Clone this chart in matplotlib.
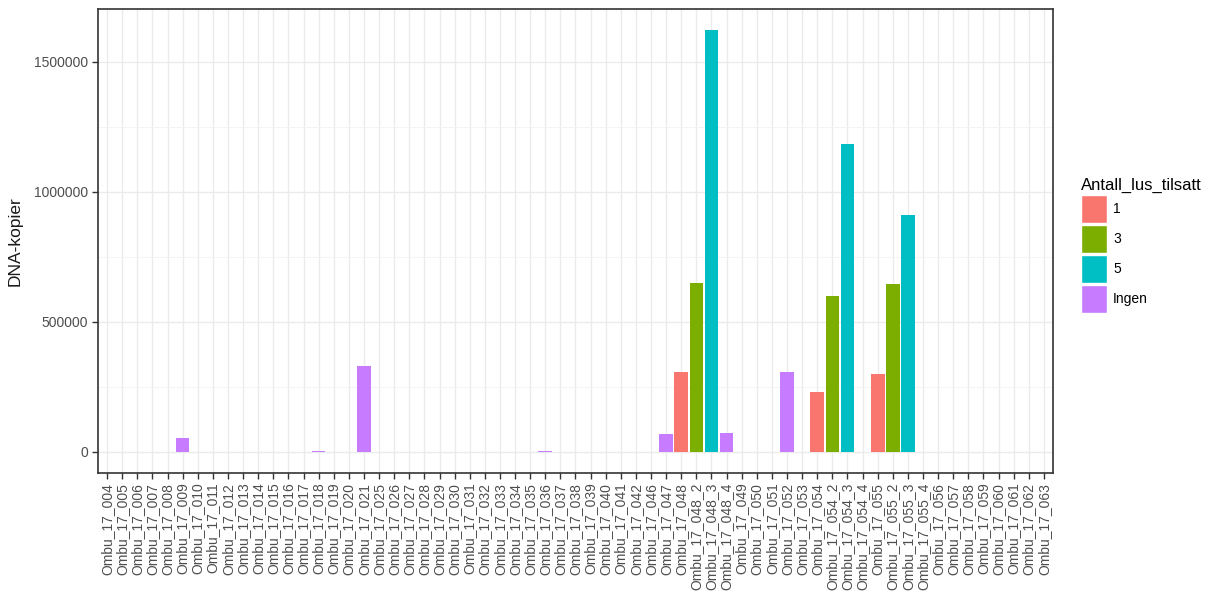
import matplotlib.pyplot as plt
from matplotlib.patches import Patch

plt.rcParams['font.family'] = ['Liberation Sans', 'DejaVu Sans']

# Data
samples = ["Ombu_17_004", "Ombu_17_005", "Ombu_17_006", "Ombu_17_007", "Ombu_17_008",
           "Ombu_17_009", "Ombu_17_010", "Ombu_17_011", "Ombu_17_012", "Ombu_17_013",
           "Ombu_17_014", "Ombu_17_015", "Ombu_17_016", "Ombu_17_017", "Ombu_17_018",
           "Ombu_17_019", "Ombu_17_020", "Ombu_17_021", "Ombu_17_025", "Ombu_17_026",
           "Ombu_17_027", "Ombu_17_028", "Ombu_17_029", "Ombu_17_030", "Ombu_17_031",
           "Ombu_17_032", "Ombu_17_033", "Ombu_17_034", "Ombu_17_035", "Ombu_17_036",
           "Ombu_17_037", "Ombu_17_038", "Ombu_17_039", "Ombu_17_040", "Ombu_17_041",
           "Ombu_17_042", "Ombu_17_046", "Ombu_17_047", "Ombu_17_048", "Ombu_17_048_2",
           "Ombu_17_048_3", "Ombu_17_048_4", "Ombu_17_049", "Ombu_17_050", "Ombu_17_051",
           "Ombu_17_052", "Ombu_17_053", "Ombu_17_054", "Ombu_17_054_2", "Ombu_17_054_3",
           "Ombu_17_054_4", "Ombu_17_055", "Ombu_17_055_2", "Ombu_17_055_3", "Ombu_17_055_4",
           "Ombu_17_056", "Ombu_17_057", "Ombu_17_058", "Ombu_17_059", "Ombu_17_060",
           "Ombu_17_061", "Ombu_17_062", "Ombu_17_063"]

dna_copies = [0, 0, 0, 0, 0,
              53500, 0, 0, 0, 0,
              0, 0, 0, 0, 5000,
              0, 0, 330000, 0, 0,
              0, 0, 0, 0, 0,
              0, 0, 0, 0, 4000,
              0, 0, 0, 0, 0,
              0, 0, 70000, 308000, 650000,
              1621000, 74000, 0, 0, 0,
              308000, 0, 229000, 601000, 1183000,
              0, 299000, 646000, 911000, 0,
              0, 0, 0, 0, 0,
              0, 0, 0]

lus_group = ["Ingen"] * 38 + ["1", "3", "5", "Ingen"] + ["Ingen"] * 5 + \
            ["1", "3", "5", "Ingen", "1", "3", "5", "Ingen"] + ["Ingen"] * 8

groups = ["1", "3", "5", "Ingen"]
group_colors = {"1": "#F8766D", "3": "#7CAE00", "5": "#00BFC4", "Ingen": "#C77CFF"}

fig = plt.figure(figsize=(12.14, 5.96), dpi=100)
ax = fig.add_axes([98 / 1214, 1 - 473 / 596, (1053 - 98) / 1214, (473 - 9) / 596])

x = list(range(len(samples)))
ax.bar(x, dna_copies, width=0.9, color=[group_colors[g] for g in lus_group], zorder=3)

ymax = max(dna_copies)
ax.set_ylim(-0.05 * ymax, 1.05 * ymax)
ax.set_xlim(-0.6, len(samples) - 1 + 0.6)

ax.set_yticks([0, 500000, 1000000, 1500000])
ax.set_yticklabels(["0", "500000", "1000000", "1500000"])
ax.set_yticks([250000, 750000, 1250000], minor=True)
ax.set_xticks(x)
ax.set_xticklabels(samples, rotation=90)

ax.grid(which='major', color='#EBEBEB', linewidth=1.0, zorder=0)
ax.grid(which='minor', axis='y', color='#F2F2F2', linewidth=0.6, zorder=0)
ax.set_axisbelow(True)
ax.tick_params(which='major', colors='#333333', labelcolor='#4D4D4D', labelsize=10,
               length=4, width=1, pad=3)
ax.tick_params(which='minor', length=0)
for s in ax.spines.values():
    s.set_color('#333333')
    s.set_linewidth(1.2)

fig.text(15 / 1214, 1 - 241 / 596, "DNA-kopier", rotation=90, ha='center', va='center',
         fontsize=12.5, color='#1A1A1A')

handles = [Patch(facecolor=group_colors[g], edgecolor='white', linewidth=1) for g in groups]
leg = fig.legend(handles, groups, title="Antall_lus_tilsatt", loc='upper left',
                 bbox_to_anchor=(1081 / 1214, 1 - 178 / 596), frameon=False,
                 fontsize=10, title_fontsize=12, handlelength=1.85, handleheight=2.7,
                 labelspacing=0.15, handletextpad=0.45, borderpad=0, borderaxespad=0,
                 alignment='left')

fig.savefig("out.png", dpi=100)
